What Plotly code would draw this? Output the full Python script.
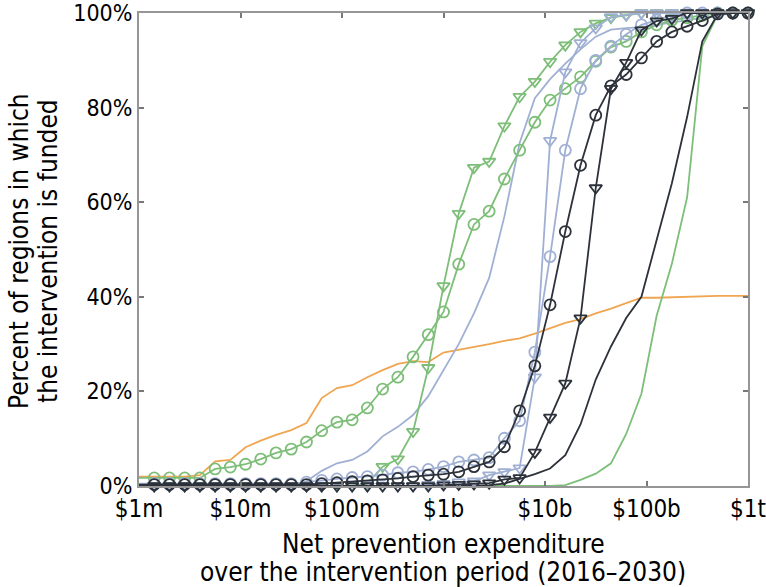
import numpy as np
import plotly.graph_objects as go

# expenditure grid: 41 points, 0.15 decade apart, $1m .. $1t
spend = [10 ** (6 + 0.15 * i) for i in range(41)]

orange = [2, 2, 2, 2, 2.3, 5.2, 5.5, 8.2, 9.6, 10.8, 11.8, 13.3, 18.6, 20.7, 21.3, 23, 24.5, 25.8, 26.4, 26.2,
          28.2, 28.8, 29.3, 30, 30.7, 31.2, 32.2, 33.3, 34.5, 35.3, 36.5, 37.5, 38.7, 39.8, 39.8, 39.9, 40, 40.2,
          40.2, 40.2, 40.2]
green_plain = [0] * 28 + [0.2, 1.3, 2.6, 4.8, 11, 19.5, 36, 47, 61, 93, 99.6, 100, 100]
blue_plain = [0] * 11 + [1.0, 3.2, 4.8, 5.5, 7.3, 10.5, 12.5, 15, 19, 24.5, 30, 36.5, 44, 57, 72.5, 82, 86, 89.3,
                         92.3, 95, 96.5, 96.8, 97, 97.5, 98, 98.5, 99, 99.5, 100, 100]
dark_plain = [0] * 23 + [0.2, 0.5, 1.5, 2.5, 3.7, 6.5, 13, 22.5, 29.5, 35.5, 40, 52, 64, 78, 94, 99.7, 100, 100]
green_circ = [1.7, 1.7, 1.7, 1.7, 1.7, 3.6, 4.0, 4.6, 5.7, 7.0, 7.8, 9.3, 11.7, 13.5, 14.0, 16.5, 20.5, 23.0, 27.3,
              32.0, 36.8, 46.9, 55.3, 58.1, 64.9, 71.0, 76.9, 81.6, 84.0, 86.5, 89.8, 92.8, 94.0, 96, 97.5, 98.5,
              99, 99.5, 100, 100, 100]
green_tri = [0] * 15 + [0.5, 4.1, 5.7, 11.5, 25, 42.3, 57.6, 67.3, 68.6, 76.1, 82.3, 85.5, 89.7, 93.2, 96, 97.8,
                        99, 99.5, 100, 100, 100, 100, 100, 100, 100, 100]
blue_circ = [0.5] * 11 + [0.8, 1.2, 1.5, 1.8, 2.0, 2.3, 2.8, 3.0, 3.5, 4.1, 5.1, 5.5, 6.0, 10.1, 13.8, 28.3, 48.5,
                          71, 84, 90, 93, 95.5, 97.5, 98.5, 99.5, 100, 100, 100, 100, 100]
blue_tri = [0] * 19 + [0.3, 0.5, 0.8, 1.0, 2.3, 3.0, 3.8, 23, 73, 87.5, 93.7, 96.8, 99.2, 99.6, 100, 100, 100, 100,
                       100, 100, 100, 100]
dark_circ = [0.3] * 12 + [0.5, 0.7, 0.9, 1.1, 1.3, 1.6, 2.0, 2.3, 2.5, 3.0, 4.1, 5.1, 8.3, 15.9, 25.4, 38.3, 53.8,
                          67.8, 78.4, 84.6, 87, 90.5, 94, 96, 97.2, 98.4, 99.8, 100, 100]
dark_tri = [0] * 20 + [0.2, 0.3, 0.4, 0.6, 1.4, 1.7, 7.1, 14.5, 21.7, 35.5, 63, 84, 89.5, 96.4, 98.3, 98.8, 100, 100,
                       100, 100, 100]

x_tick_vals = [1e6, 1e7, 1e8, 1e9, 1e10, 1e11, 1e12]
x_tick_text = ["$1m", "$10m", "$100m", "$1b", "$10b", "$100b", "$1t"]
y_tick_vals = [0, 20, 40, 60, 80, 100]
y_tick_text = ["0%", "20%", "40%", "60%", "80%", "100%"]

x_title = ["Net prevention expenditure", "over the intervention period (2016\u20132030)"]
y_title = ["Percent of regions in which", "the intervention is funded"]

ORANGE = "rgb(240,165,80)"
GREEN = "rgb(125,190,120)"
BLUE = "rgb(160,176,212)"
DARK = "rgb(45,50,58)"

series = [
    (orange, ORANGE, None),
    (green_plain, GREEN, None),
    (blue_plain, BLUE, None),
    (dark_plain, DARK, None),
    (green_circ, GREEN, "circle-open"),
    (green_tri, GREEN, "triangle-down-open"),
    (blue_circ, BLUE, "circle-open"),
    (blue_tri, BLUE, "triangle-down-open"),
    (dark_circ, DARK, "circle-open"),
    (dark_tri, DARK, "triangle-down-open"),
]

fig = go.Figure()
for vals, col, sym in series:
    if sym is None:
        fig.add_trace(go.Scatter(x=spend, y=vals, mode="lines", line=dict(color=col, width=1.8),
                                 cliponaxis=False, hoverinfo="skip"))
    else:
        fig.add_trace(go.Scatter(x=spend, y=vals, mode="lines+markers", line=dict(color=col, width=1.8),
                                 marker=dict(symbol=sym, size=11, color=col, line=dict(width=1.8, color=col)),
                                 cliponaxis=False, hoverinfo="skip"))

FONT = "DejaVu Sans Condensed, Liberation Sans Narrow, Liberation Sans, sans-serif"
axis_common = dict(showline=True, linecolor="rgb(150,150,150)", linewidth=2, mirror="ticks",
                   ticks="inside", ticklen=5, tickwidth=2, tickcolor="rgb(120,120,120)",
                   showgrid=False, zeroline=False, automargin=False, ticklabeloverflow="allow")

# plot area in window pixels: x 139..748, y 13..486
L, R, T, B = 139, 748, 13, 486
W, H = 766, 587
def px(x):
    return (x - L) / (R - L)
def py(y):
    return (B - y) / (B - T)

fig.update_layout(
    width=W, height=H,
    margin=dict(l=L, r=W - R, t=T, b=H - B, pad=0),
    plot_bgcolor="white", paper_bgcolor="white",
    showlegend=False,
    font=dict(family=FONT, color="black"),
    xaxis=dict(type="log", range=[6, 12], tickvals=x_tick_vals, ticktext=x_tick_text,
               ticklabelstandoff=0, tickfont=dict(size=24, color="black"), **axis_common),
    yaxis=dict(range=[0, 100], tickvals=y_tick_vals, ticktext=y_tick_text,
               tickfont=dict(size=23, color="black"), **axis_common),
)

for line, ycen in zip(x_title, [544, 572]):
    fig.add_annotation(text=line, xref="paper", yref="paper", x=px(443), y=py(ycen),
                       showarrow=False, xanchor="center", yanchor="middle", font=dict(size=26))
for line, xcen in zip(y_title, [19, 48]):
    fig.add_annotation(text=line, xref="paper", yref="paper", x=px(xcen), y=py(251),
                       showarrow=False, xanchor="center", yanchor="middle", textangle=-90,
                       font=dict(size=26))

# drop the default page margin so the figure sits at the window's top-left corner
fig.write_html("out.html", config={"displayModeBar": False},
               post_script="document.body.style.margin='0px';")
